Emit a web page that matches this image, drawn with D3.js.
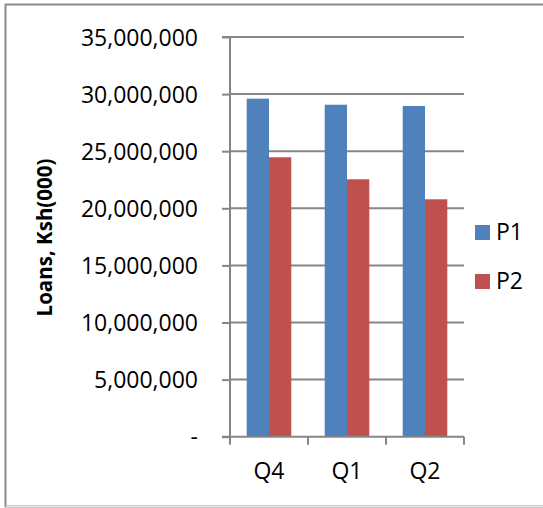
<!DOCTYPE html>
<html><head><meta charset="utf-8">
<script src="https://cdn.jsdelivr.net/npm/d3@7"></script>
<style>body{margin:0;background:#fff}svg{display:block}</style>
</head><body>
<script>
const categories = ["Q4","Q1","Q2"];
const seriesNames = ["P1","P2"];
const p1 = [29600000, 29070000, 28960000];
const p2 = [24470000, 22540000, 20790000];
const yTicks = [0,5000000,10000000,15000000,20000000,25000000,30000000,35000000];
const colors = ["#4F81BD","#C0504D"];

(function(){
const W=543,H=508;
const svg=d3.select("body").append("svg").attr("width",W).attr("height",H);
const font="'Open Sans', sans-serif";
// frame
svg.append("path").attr("d",`M${W},4.5 H5.5 V506.5 H${W}`).attr("fill","none").attr("stroke","#8c8c8c").attr("stroke-width",2);
svg.append("line").attr("x1",6).attr("x2",W).attr("y1",506.5).attr("y2",506.5).attr("stroke","#e6e6e6").attr("stroke-width",1.5);

const pL=230,pR=464,pT=37,pB=436.7;
const x=d3.scaleBand().domain(categories).range([pL,pR]).paddingInner(0).paddingOuter(0);
const xs=d3.scaleBand().domain(seriesNames).range([0,x.bandwidth()]).paddingInner(0).paddingOuter(0.75);
const y=d3.scaleLinear().domain([0,35000000]).range([pB,pT]);

// gridlines
svg.append("g").selectAll("line").data(yTicks.filter(d=>d>0)).join("line")
 .attr("x1",pL).attr("x2",pR).attr("y1",d=>y(d)).attr("y2",d=>y(d))
 .attr("stroke","#868686").attr("stroke-width",2);

// bars
const data=categories.map((c,i)=>({c,vals:[p1[i],p2[i]]}));
const g=svg.append("g").selectAll("g").data(data).join("g").attr("transform",d=>`translate(${x(d.c)},0)`);
g.selectAll("rect").data(d=>d.vals.map((v,j)=>({s:seriesNames[j],v,j}))).join("rect")
 .attr("x",d=>xs(d.s)).attr("width",xs.bandwidth()).attr("y",d=>y(d.v)).attr("height",d=>pB-y(d.v))
 .attr("fill",d=>colors[d.j]);

// y axis
const ya=d3.axisLeft(y).tickValues(yTicks).tickSize(8).tickPadding(24)
 .tickFormat(d=>d===0?"-":d3.format(",")(d));
const yg=svg.append("g").attr("transform",`translate(${pL},0)`).call(ya);
yg.select(".domain").attr("d",`M-8,${pT}H0V${pB}H-8`).attr("stroke","#868686").attr("stroke-width",2);
yg.selectAll(".tick line").attr("stroke","#868686").attr("stroke-width",2);
yg.selectAll("text").attr("font-family",font).attr("font-size",23).attr("fill","#000").attr("dy","0.35em");

// x axis
const xa=d3.axisBottom(x).tickSize(0).tickPadding(26);
const xg=svg.append("g").attr("transform",`translate(0,${pB})`).call(xa);
xg.select(".domain").remove();
xg.selectAll("text").attr("font-family",font).attr("font-size",23).attr("fill","#000");
svg.append("line").attr("x1",pL).attr("x2",pR).attr("y1",pB).attr("y2",pB).attr("stroke","#868686").attr("stroke-width",2);
svg.append("g").selectAll("line").data(categories.map(c=>x(c)).concat([pR])).join("line")
 .attr("x1",d=>d).attr("x2",d=>d).attr("y1",pB).attr("y2",pB+8).attr("stroke","#868686").attr("stroke-width",2);

// y title
svg.append("text").attr("transform",`translate(52,237.5) rotate(-90)`).attr("text-anchor","middle")
 .attr("font-family",font).attr("font-weight","bold").attr("font-size",20.5).attr("fill","#000").text("Loans, Ksh(000)");

// legend
const lg=svg.append("g").selectAll("g").data(seriesNames).join("g").attr("transform",(d,i)=>`translate(475,${225+i*49})`);
lg.append("rect").attr("width",15).attr("height",15).attr("fill",(d,i)=>colors[i]);
lg.append("text").attr("x",21).attr("y",15).attr("font-family",font).attr("font-size",23).attr("fill","#000").text(d=>d);
})();
</script>
</body></html>
